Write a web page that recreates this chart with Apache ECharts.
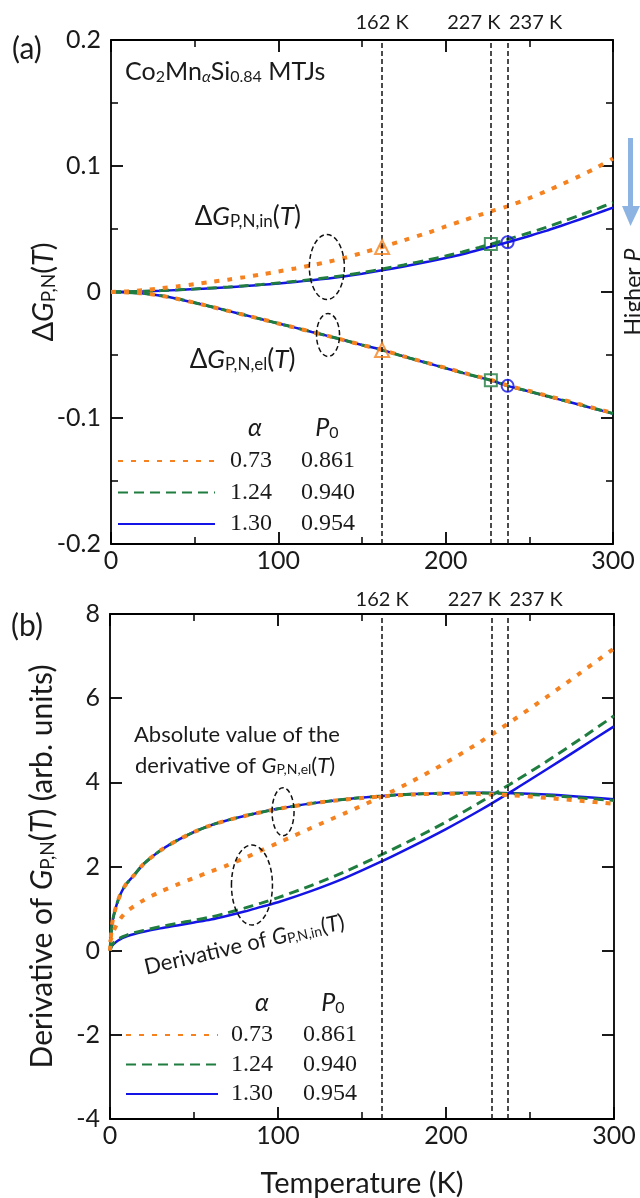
<!DOCTYPE html>
<html>
<head>
<meta charset="utf-8">
<title>Derivative of G_P,N(T)</title>
<script src="https://cdn.jsdelivr.net/npm/echarts@6/dist/echarts.min.js"></script>
<style>
  html, body { margin: 0; padding: 0; background: #fff; }
  #chart { width: 640px; height: 1198px; }
</style>
</head>
<body>
<div id="chart"></div>
<script>
// legend table
const alphas = ['0.73', '1.24', '1.30'];
const p0s = ['0.861', '0.940', '0.954'];
// vertical guide lines (K)
const tempLines = [162, 227, 237];

// axis ticks
const xTicks = [0, 100, 200, 300];
const yTicksA = [-0.2, -0.1, 0, 0.1, 0.2];
const yTicksB = [-4, -2, 0, 2, 4, 6, 8];

// ---- panel (a): dG_P,N(T) ----
const tempA = [0, 10, 20, 30, 40, 50, 60, 70, 80, 90, 100, 110, 120, 130, 140, 150, 162, 175, 190, 200, 210, 220, 227, 237, 250, 260, 270, 280, 290, 300];
const inOrangeA = [0, 0.0005, 0.0015, 0.003, 0.0045, 0.0062, 0.008, 0.0098, 0.0118, 0.014, 0.0163, 0.0187, 0.0213, 0.024, 0.0272, 0.031, 0.0357, 0.041, 0.0473, 0.052, 0.0565, 0.061, 0.064, 0.068, 0.0745, 0.080, 0.0858, 0.092, 0.0985, 0.106];
const inGreenA = [0, 0.0002, 0.0006, 0.0011, 0.0017, 0.0024, 0.0032, 0.004, 0.005, 0.006, 0.0072, 0.0085, 0.0099, 0.0115, 0.0133, 0.0154, 0.0182, 0.0215, 0.0256, 0.0286, 0.0318, 0.0354, 0.038, 0.0418, 0.047, 0.0513, 0.056, 0.0608, 0.0658, 0.071];
const inBlueA = [0, 0.0002, 0.0005, 0.001, 0.0016, 0.0023, 0.003, 0.0038, 0.0047, 0.0057, 0.0068, 0.008, 0.0093, 0.0108, 0.0125, 0.0145, 0.0172, 0.0203, 0.0242, 0.027, 0.030, 0.0335, 0.036, 0.0395, 0.0445, 0.0485, 0.053, 0.0575, 0.0622, 0.067];
const elOrangeA = [0, -0.0003, -0.0012, -0.003, -0.0055, -0.0085, -0.0117, -0.015, -0.0183, -0.0216, -0.025, -0.0283, -0.0317, -0.035, -0.0385, -0.042, -0.046, -0.0511, -0.0566, -0.0602, -0.0639, -0.0674, -0.0698, -0.0742, -0.0786, -0.0821, -0.0856, -0.0891, -0.0926, -0.0961];
const elGreenA = [0, -0.0003, -0.0012, -0.003, -0.0055, -0.0085, -0.0117, -0.015, -0.0183, -0.0216, -0.025, -0.0283, -0.0317, -0.035, -0.0385, -0.042, -0.046, -0.0512, -0.0567, -0.0604, -0.0641, -0.0676, -0.0700, -0.0744, -0.0789, -0.0824, -0.0859, -0.0894, -0.0929, -0.0964];
const elBlueA = [0, -0.0003, -0.0012, -0.003, -0.0055, -0.0085, -0.0117, -0.015, -0.0183, -0.0216, -0.025, -0.0283, -0.0317, -0.035, -0.0385, -0.042, -0.046, -0.0512, -0.0568, -0.0605, -0.0642, -0.0677, -0.0700, -0.0745, -0.079, -0.0825, -0.086, -0.0895, -0.093, -0.0965];
// open markers at the guide lines
const markInA = [0.0357, 0.038, 0.0395];
const markElA = [-0.046, -0.070, -0.0745];

// ---- panel (b): derivatives ----
const tempB = [0, 1, 2, 4, 6, 8, 10, 14, 20, 30, 40, 50, 60, 70, 80, 90, 100, 120, 140, 160, 180, 200, 220, 240, 260, 280, 300];
const inOrangeB = [0.2, 0.32, 0.45, 0.62, 0.75, 0.85, 0.93, 1.05, 1.2, 1.4, 1.57, 1.73, 1.88, 2.03, 2.2, 2.38, 2.56, 2.92, 3.27, 3.63, 4.03, 4.47, 4.95, 5.48, 6.03, 6.6, 7.18];
const inGreenB = [0, 0.12, 0.18, 0.25, 0.3, 0.34, 0.37, 0.42, 0.48, 0.57, 0.65, 0.72, 0.8, 0.9, 1.01, 1.13, 1.26, 1.55, 1.88, 2.25, 2.64, 3.06, 3.52, 4.0, 4.5, 5.03, 5.58];
const inBlueB = [0, 0.1, 0.15, 0.22, 0.27, 0.31, 0.34, 0.39, 0.45, 0.53, 0.6, 0.67, 0.74, 0.83, 0.93, 1.04, 1.15, 1.42, 1.73, 2.09, 2.48, 2.89, 3.33, 3.81, 4.31, 4.82, 5.33];
const elOrangeB = [0, 0.55, 0.8, 1.1, 1.32, 1.48, 1.6, 1.78, 2.06, 2.38, 2.62, 2.82, 2.98, 3.1, 3.2, 3.29, 3.37, 3.5, 3.59, 3.66, 3.71, 3.73, 3.72, 3.69, 3.63, 3.56, 3.49];
const elGreenB = [0, 0.55, 0.8, 1.1, 1.32, 1.48, 1.6, 1.78, 2.06, 2.38, 2.62, 2.82, 2.98, 3.1, 3.2, 3.29, 3.37, 3.5, 3.6, 3.67, 3.72, 3.74, 3.745, 3.73, 3.69, 3.63, 3.57];
const elBlueB = [0, 0.55, 0.8, 1.1, 1.32, 1.48, 1.6, 1.78, 2.06, 2.38, 2.62, 2.82, 2.98, 3.1, 3.2, 3.29, 3.37, 3.5, 3.6, 3.67, 3.72, 3.74, 3.75, 3.74, 3.71, 3.66, 3.6];

// ---- styles ----
const FONT = 'Lato, "Noto Sans", sans-serif';
const SERIF = '"Liberation Serif", "DejaVu Serif", serif';
const INK = '#1a1a1a';
const colors = ['#f5821f', '#1f7d3f', '#1414e6'];
const dashes = [[5, 8], [10, 6], 'solid'];
const widths = [4, 3, 2.5];
const symbols = ['triangle', 'rect', 'circle'];

// rich-text styles with sub-scripts
function rich(size, colorKey) {
  const c = {};
  c[colorKey] = INK;
  return {
    n: Object.assign({ fontSize: size, fontFamily: FONT, verticalAlign: 'middle' }, c),
    i: Object.assign({ fontSize: size, fontFamily: FONT, fontStyle: 'italic', verticalAlign: 'middle' }, c),
    s: Object.assign({ fontSize: Math.round(size * 0.64), fontFamily: FONT, verticalAlign: 'bottom', lineHeight: Math.round(size * 0.42) }, c),
    si: Object.assign({ fontSize: Math.round(size * 0.64), fontFamily: FONT, fontStyle: 'italic', verticalAlign: 'bottom', lineHeight: Math.round(size * 0.42) }, c)
  };
}

function xAxisOf(gridIndex, position) {
  const bottom = position === 'bottom';
  return {
    type: 'value', gridIndex, position,
    min: xTicks[0], max: xTicks[xTicks.length - 1], interval: xTicks[1] - xTicks[0],
    name: gridIndex === 1 && bottom ? 'Temperature (K)' : '',
    nameLocation: 'middle', nameGap: 50, nameMoveOverlap: false,
    nameTextStyle: { fontFamily: FONT, fontSize: 29, color: INK },
    axisLine: { onZero: false, lineStyle: { color: '#000', width: 1.8 } },
    axisTick: { inside: true, length: 12, lineStyle: { color: '#000', width: 1.8 } },
    minorTick: { show: true, splitNumber: 2, length: 7, lineStyle: { color: '#000', width: 1.5 } },
    splitLine: { show: false },
    minorSplitLine: { show: false },
    axisLabel: { show: bottom, margin: 4, fontFamily: FONT, fontSize: 25, color: INK }
  };
}

function yAxisOf(gridIndex, position, ticks, minor, name, size) {
  const left = position === 'left';
  return {
    type: 'value', gridIndex, position,
    min: ticks[0], max: ticks[ticks.length - 1], interval: ticks[1] - ticks[0],
    name: left ? name : '',
    nameLocation: 'middle', nameGap: 53, nameRotate: 90, nameMoveOverlap: false,
    nameTextStyle: { fontFamily: FONT, fontSize: size, color: INK, rich: rich(size, 'color') },
    axisLine: { onZero: false, lineStyle: { color: '#000', width: 1.8 } },
    axisTick: { inside: true, length: 12, lineStyle: { color: '#000', width: 1.8 } },
    minorTick: { show: minor, splitNumber: 2, length: 7, lineStyle: { color: '#000', width: 1.5 } },
    splitLine: { show: false },
    minorSplitLine: { show: false },
    axisLabel: { show: left, margin: 10, fontFamily: FONT, fontSize: 25, color: INK }
  };
}

const series = [];
function addLine(panel, k, temps, vals, extra) {
  series.push(Object.assign({
    name: alphas[k], type: 'line',
    xAxisIndex: panel * 2, yAxisIndex: panel * 2,
    data: temps.map((t, i) => [t, vals[i]]),
    symbol: 'none', smooth: 0.3,
    lineStyle: { color: colors[k], width: widths[k], type: dashes[k], cap: 'butt' },
    itemStyle: { color: colors[k] }
  }, extra || {}));
}
const guideLines = {
  silent: true, symbol: ['none', 'none'], label: { show: false },
  lineStyle: { color: '#111', type: [5, 3], width: 1.5 },
  data: tempLines.map(t => ({ xAxis: t }))
};

// panel (a): blue under green under orange
addLine(0, 2, tempA, inBlueA);
addLine(0, 2, tempA, elBlueA);
addLine(0, 1, tempA, inGreenA);
addLine(0, 1, tempA, elGreenA);
addLine(0, 0, tempA, inOrangeA);
addLine(0, 0, tempA, elOrangeA, { markLine: guideLines });
tempLines.forEach((t, k) => {
  series.push({
    type: 'scatter', xAxisIndex: 0, yAxisIndex: 0,
    symbol: symbols[k], symbolSize: k === 0 ? 14 : 12, z: 5,
    data: [[t, markInA[k]], [t, markElA[k]]],
    itemStyle: { color: 'rgba(255,255,255,0)', borderColor: colors[k], borderWidth: 2 }
  });
});

// panel (b)
addLine(1, 2, tempB, inBlueB);
addLine(1, 2, tempB, elBlueB);
addLine(1, 1, tempB, inGreenB);
addLine(1, 1, tempB, elGreenB);
addLine(1, 0, tempB, inOrangeB);
addLine(1, 0, tempB, elOrangeB, { markLine: guideLines });

function legendOf(left, top, itemWidth, itemGap, firstWidth, pad) {
  return {
    data: alphas.slice(), orient: 'vertical', left, top, padding: 0,
    itemWidth, itemHeight: 14, itemGap, selectedMode: false,
    itemStyle: { opacity: 0 },
    formatter: name => `{a|${name}}{b|${p0s[alphas.indexOf(name)]}}`,
    textStyle: {
      rich: {
        a: { fontFamily: SERIF, fontSize: 24, color: INK, lineHeight: 24, width: firstWidth, padding: [0, 0, 0, pad] },
        b: { fontFamily: SERIF, fontSize: 24, color: INK, lineHeight: 24 }
      }
    }
  };
}

const option = {
  animation: false,
  backgroundColor: '#fff',
  textStyle: { fontFamily: FONT },
  grid: [
    { left: 111, top: 40, width: 502, height: 504, outerBoundsMode: 'none' },
    { left: 110, top: 614, width: 504, height: 505, outerBoundsMode: 'none' }
  ],
  xAxis: [xAxisOf(0, 'bottom'), xAxisOf(0, 'top'), xAxisOf(1, 'bottom'), xAxisOf(1, 'top')],
  yAxis: [
    yAxisOf(0, 'left', yTicksA, true, '{n|Δ}{i|G}{s|P,N}{n|(}{i|T}{n|)}', 29),
    yAxisOf(0, 'right', yTicksA, true, '', 29),
    yAxisOf(1, 'left', yTicksB, false, '{n|Derivative of }{i|G}{s|P,N}{n|(}{i|T}{n|) (arb. units)}', 30),
    yAxisOf(1, 'right', yTicksB, false, '', 30)
  ],
  legend: [legendOf(117, 449, 97, 7.5, 71, 10), legendOf(125, 1023, 92, 5.5, 72, 8)],
  series
};

const chart = echarts.init(document.getElementById('chart'));
chart.setOption(option);

// ---- annotations, placed in data coordinates ----
const px = (p, x, y) => chart.convertToPixel({ xAxisIndex: p * 2, yAxisIndex: p * 2 }, [x, y]);

function text(pos, str, size, extra) {
  return Object.assign({
    type: 'text', x: pos[0], y: pos[1], z: 10,
    style: {
      text: str, rich: rich(size, 'fill'), fill: INK, fontSize: size, fontFamily: FONT,
      align: 'left', verticalAlign: 'middle', textAlign: 'left', textVerticalAlign: 'middle'
    }
  }, extra || {});
}
function centered(el) {
  el.style.align = el.style.textAlign = 'center';
  return el;
}
function ellipse(pos, rx, ry) {
  return {
    type: 'ellipse', z: 10,
    shape: { cx: pos[0], cy: pos[1], rx, ry },
    style: { fill: 'none', stroke: '#111', lineWidth: 1.5, lineDash: [5, 3] }
  };
}

const labelShift = [0, -17, 28];
const labelRise = [17, 14];
const topVal = [yTicksA[yTicksA.length - 1], yTicksB[yTicksB.length - 1]];
const graphics = [];
[0, 1].forEach(p => {
  tempLines.forEach((t, k) => {
    const pt = px(p, t, topVal[p]);
    graphics.push(centered(text([pt[0] + labelShift[k], pt[1] - labelRise[p]], `{n|${t} K}`, 20)));
  });
});

// panel letters
graphics.push(text([12, 49], '{n|(a)}', 30));
graphics.push(text([11, 626], '{n|(b)}', 30));

// panel (a) notes
graphics.push(text(px(0, 8.4, 0.1746), '{n|Co}{s|2}{n|Mn}{si|α}{n|Si}{s|0.84}{n| MTJs}', 25));
graphics.push(text(px(0, 50, 0.0595), '{n|Δ}{i|G}{s|P,N,in}{n|(}{i|T}{n|)}', 26));
graphics.push(text(px(0, 47, -0.054), '{n|Δ}{i|G}{s|P,N,el}{n|(}{i|T}{n|)}', 26));
graphics.push(ellipse(px(0, 129, 0.0198), 17.5, 32.5));
graphics.push(ellipse(px(0, 129.7, -0.0341), 11.5, 21.5));
graphics.push(centered(text(px(0, 86, -0.108), '{i|α}', 25)));
graphics.push(centered(text(px(0, 129, -0.108), '{i|P}{s|0}', 25)));

// panel (b) notes
graphics.push(text(px(1, 14.3, 5.125), '{n|Absolute value of the}', 22));
graphics.push(text(px(1, 14.9, 4.39), '{n|derivative of }{i|G}{s|P,N,el}{n|(}{i|T}{n|)}', 22));
graphics.push(centered(text(px(1, 80, 0.14), '{n|Derivative of }{i|G}{s|P,N,in}{n|(}{i|T}{n|)}', 22,
  { rotation: 13 * Math.PI / 180 })));
graphics.push(ellipse(px(1, 103, 3.3), 11, 24));
graphics.push(ellipse(px(1, 84.5, 1.56), 20.5, 40));
graphics.push(centered(text(px(1, 90.5, -1.24), '{i|α}', 25)));
graphics.push(centered(text(px(1, 132.7, -1.24), '{i|P}{s|0}', 25)));

// "Higher P" arrow at the right edge of panel (a)
const arrowBlue = '#8db3e2';
graphics.push({ type: 'rect', z: 10, shape: { x: 628, y: 138, width: 5, height: 70 }, style: { fill: arrowBlue } });
graphics.push({ type: 'polygon', z: 10, shape: { points: [[622, 206], [640, 206], [630.5, 226]] }, style: { fill: arrowBlue } });
graphics.push(centered(text([634, 292], '{n|Higher }{i|P}', 23, { rotation: Math.PI / 2 })));

chart.setOption({ graphic: graphics });
</script>
</body>
</html>
